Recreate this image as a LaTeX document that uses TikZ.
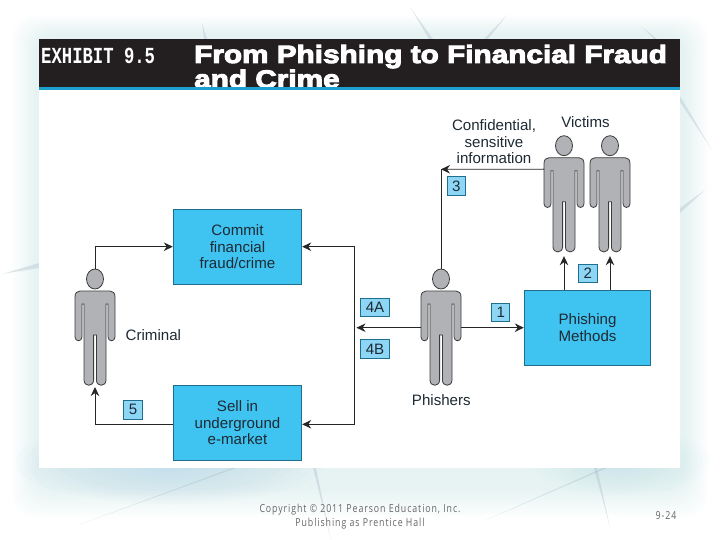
\documentclass[tikz,border=0pt]{standalone}
\usepackage{fontspec}
\setmainfont{Liberation Sans}
\newfontfamily\titlefont[FakeStretch=1.19,FakeBold=4]{Liberation Sans Bold}
\newfontfamily\exhfont[FakeStretch=0.75]{Liberation Mono}
\newfontfamily\footfont[FakeStretch=0.8,LetterSpace=8.4]{Open Sans}
\usetikzlibrary{arrows.meta}
\definecolor{boxfill}{HTML}{3FC4F1}
\definecolor{boxline}{HTML}{1F6E8C}
\definecolor{tagfill}{HTML}{8ED6F6}
\definecolor{figfill}{HTML}{B1B2B5}
\definecolor{figline}{HTML}{3C3C3E}
\definecolor{ink}{HTML}{1E2A34}
\definecolor{band}{HTML}{231F20}
\definecolor{stripe}{HTML}{1CA0D0}
\definecolor{glow}{HTML}{A9D3EC}
\definecolor{streak}{HTML}{9FB6C2}
\tikzset{
  bigbox/.style={draw=boxline,line width=1pt,fill=boxfill,text=ink,font=\fontsize{15.1}{16.6}\selectfont,align=center,inner sep=0pt},
  tagbox/.style={draw=boxline,line width=0.9pt,fill=tagfill,text=ink,font=\fontsize{15.1}{16}\selectfont,inner sep=0pt,minimum height=18.5pt},
  lbl/.style={text=ink,font=\fontsize{15.1}{16.6}\selectfont,align=center,inner sep=0pt},
  conn/.style={draw=black!85,line width=0.9pt},
  arr/.style={conn,-{Stealth[length=9pt,width=8.5pt]}},
  streakfill/.style={fill=streak,opacity=0.32},
  foot/.style={text=black!60,font=\footfont\fontsize{11}{14}\selectfont,align=center,inner sep=0pt},
  pics/person/.style={code={
    \path[draw=figline,line width=0.8pt,fill=figfill]
      (0,10) ellipse [x radius=8.5,y radius=10];
    \path[draw=figline,line width=0.8pt,fill=figfill]
      (-20,28) .. controls (-20,24) and (-18,22) .. (-15,22) -- (15,22)
      .. controls (18,22) and (20,24) .. (20,28) -- (20,68)
      .. controls (20,73) and (13,73) .. (13,68) -- (13,35) -- (11,35) -- (11,111)
      .. controls (11,118) and (1.4,118) .. (1.4,111) -- (1.4,66) -- (-1.4,66) -- (-1.4,111)
      .. controls (-1.4,118) and (-11,118) .. (-11,111) -- (-11,35) -- (-13,35) -- (-13,68)
      .. controls (-13,73) and (-20,73) .. (-20,68) -- cycle;
    \coordinate (-head) at (0,0);
    \coordinate (-left) at (-20,58.7);
    \coordinate (-right) at (20,58.7);
    \coordinate (-armv) at (-20,33.5);
    \coordinate (-feet) at (0,116);
  }}
}
\begin{document}
\begin{tikzpicture}[x=1pt,y=-1pt]
\useasboundingbox (0,0) rectangle (720,540);
\fill[white] (0,0) rectangle (720,540);
% soft edge glow: stacked translucent shapes
\foreach \i in {0,...,11}{
  \fill[glow,opacity=0.018,rounded corners=22pt]
    ({12+2*\i},{16+1.5*\i}) rectangle ({708-2*\i},{518-2.5*\i});
}
\foreach \i in {0,...,13}{
  \fill[glow,opacity=0.045] (170,462) ellipse [x radius={155-10*\i},y radius={42-2.7*\i}];
  \fill[glow,opacity=0.025] (620,462) ellipse [x radius={90-6*\i},y radius={34-2.2*\i}];
}
% streaks
\fill[streakfill] (232,468) -- (236,468) -- (78,525) -- cycle;
\fill[streakfill] (313,468) -- (316,468) -- (331,540) -- cycle;
\fill[streakfill] (603,468) -- (607,468) -- (486,520) -- cycle;
\fill[streakfill] (594,468) -- (597,468) -- (610,527) -- cycle;
\fill[streakfill] (429,39) -- (433,39) -- (410,7) -- cycle;
\fill[streakfill] (484,39) -- (488,39) -- (507,15) -- cycle;
\fill[streakfill] (204,39) -- (207,39) -- (202,23) -- cycle;
\fill[streakfill] (654,39) -- (657,39) -- (642,27) -- cycle;
\fill[streakfill] (680,208) -- (680,213) -- (705,190) -- cycle;
\fill[streakfill] (680,96) -- (680,102) -- (712,150) -- cycle;
\fill[streakfill] (39,263) -- (39,268) -- (2,274) -- cycle;
% panel
\fill[white] (39,39) rectangle (680,468);
\fill[band] (39,39) rectangle (680,87.5);
\node (exhibit) [anchor=base west,inner sep=0pt,text=white,font=\exhfont\bfseries\fontsize{23}{25}\selectfont] at (41,63.5) {EXHIBIT 9.5};
\node (title1) [anchor=base west,inner sep=0pt,text=white,font=\titlefont\fontsize{25}{27}\selectfont] at (194,63) {From Phishing to Financial Fraud};
\node (title2) [anchor=base west,inner sep=0pt,text=white,font=\titlefont\fontsize{25}{27}\selectfont] at (194,87.7) {and Crime};
\fill[white] (39,90.5) rectangle (680,96);
\fill[stripe] (39,87.5) rectangle (680,90.5);
% people
\pic (victimA) at (564,135.7) {person};
\pic (victimB) at (610,135.7) {person};
\pic (phisher) at (441,269) {person};
\pic (criminal) at (95,269) {person};
% boxes
\node (commit) [bigbox,minimum width=128.4pt,minimum height=74.7pt] at (237.5,246.7) {Commit\\financial\\fraud/crime};
\node (sell) [bigbox,minimum width=128.4pt,minimum height=74.6pt] at (237.5,423) {Sell in\\underground\\e-market};
\node (methods) [bigbox,minimum width=126.4pt,minimum height=74.7pt] at (587.5,327.7) {Phishing\\Methods};
% tags
\node (t3) [tagbox,minimum width=18.7pt] at (456.3,186.2) {3};
\node (t2) [tagbox,minimum width=18.7pt] at (587.7,273.5) {2};
\node (t1) [tagbox,minimum width=18.2pt] at (500.7,312.5) {1};
\node (t4a) [tagbox,minimum width=29.4pt] at (375,307.5) {4A};
\node (t4b) [tagbox,minimum width=29.4pt] at (375,349) {4B};
\node (t5) [tagbox,minimum width=19.4pt] at (133,409.7) {5};
% labels
\node (conf) [lbl] at (494,142) {Confidential,\\sensitive\\information};
\node (victims) [lbl] at (585.5,122) {Victims};
\node (phishers) [lbl] at (441.3,400) {Phishers};
\node (crim) [lbl,anchor=west] at (125.5,335) {Criminal};
% connectors
\coordinate (junctionTop) at (354.7,246.7);
\coordinate (junctionBot) at (354.7,424.3);
\coordinate (hub) at (356.5,327.7);
\coordinate (corner) at (441,169.3);
\draw[conn] (phisher-head) -- (corner);
\draw[arr] (victimA-armv) -- (corner);
\draw[arr] (phisher-left) -- (hub);
\draw[arr] (phisher-right) -- (methods.west);
\draw[conn] (junctionTop) -- (junctionBot);
\draw[arr] (junctionTop) -- (commit.east);
\draw[arr] (junctionBot) -- (sell.east |- junctionBot);
\draw[arr] (criminal-head) |- (commit.west);
\draw[arr] (sell.west |- junctionBot) -| ([yshift=-2pt]criminal-feet);
\draw[arr] (methods.north -| victimA-feet) -- ([yshift=-4.5pt]victimA-feet);
\draw[arr] (methods.north -| victimB-feet) -- ([yshift=-4.5pt]victimB-feet);
% footer
\node (copy) [foot] at (360,516.5) {Copyright © 2011 Pearson Education, Inc.\\Publishing as Prentice Hall};
\node (page) [foot] at (666,516) {9-24};
\end{tikzpicture}
\end{document}
